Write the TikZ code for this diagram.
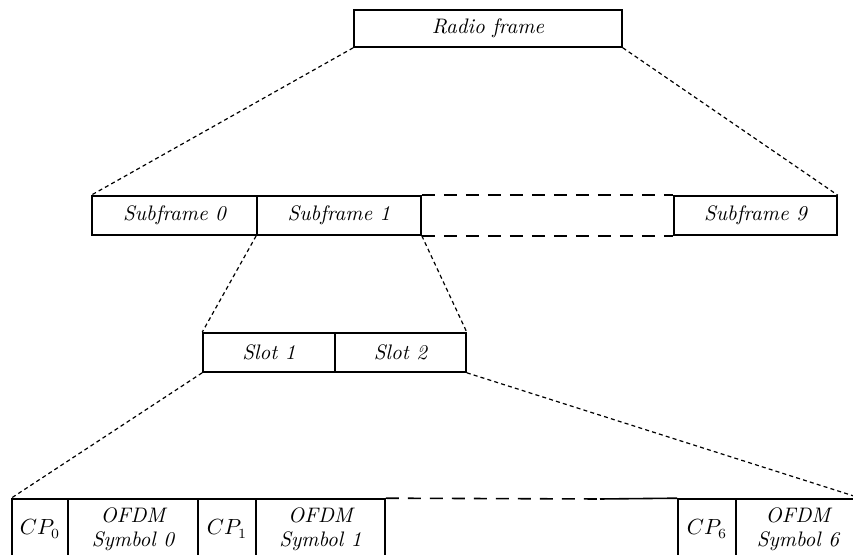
\documentclass[tikz,border=0pt]{standalone}
\begin{document}
\begin{tikzpicture}[x=0.5pt,y=-0.5pt,
  cell/.style={draw,line width=0.8pt,rectangle,inner sep=0pt,minimum height=19.5pt,
    font=\fontsize{10.5}{12}\selectfont\itshape,align=center},
  sym/.style={cell,minimum height=30pt},
  zoomline/.style={line width=0.6pt,dash pattern=on 2pt off 1.6pt},
  gap/.style={line width=0.8pt,dash pattern=on 6.5pt off 4.5pt}]
\useasboundingbox (0,0) rectangle (853,555);
\clip (0,0) rectangle (853,555);

% frame
\node[cell,minimum width=134pt,minimum height=18.5pt] (rf) at (488,28.5) {Radio frame};

% subframes
\node[cell,minimum width=82.5pt] (sf0) at (174.5,215.5) {Subframe 0};
\node[cell,minimum width=82pt]   (sf1) at (339,215.5) {Subframe 1};
\node[cell,minimum width=81.5pt] (sf9) at (755.5,215.5) {Subframe 9};
\draw[gap] (sf1.north east) -- (sf9.north west);
\draw[gap] (sf1.south east) -- (sf9.south west);

% slots
\node[cell,minimum width=66pt]   (sl1) at (269,352.5) {Slot 1};
\node[cell,minimum width=65.5pt] (sl2) at (400.5,352.5) {Slot 2};

% symbols
\node[sym,minimum width=28pt]   (cp0) at (40,529)    {$CP_0$};
\node[sym,minimum width=65pt]   (s0)  at (133,529)   {OFDM\\Symbol 0};
\node[sym,minimum width=29pt]   (cp1) at (227,529)   {$CP_1$};
\node[sym,minimum width=64.5pt] (s1)  at (320.5,529) {OFDM\\Symbol 1};
\node[sym,minimum width=29pt]   (cp6) at (707,529)   {$CP_6$};
\node[sym,minimum width=62pt]   (s6)  at (798,529)   {OFDM\\Symbol 6};
\coordinate (gapend) at (600,499);
\draw[gap] (s1.north east) -- (gapend);
\draw[line width=0.8pt] (gapend) -- (cp6.north west);

% zoom lines
\draw[zoomline] (rf.south west) -- (sf0.north west);
\draw[zoomline] (rf.south east) -- (sf9.north east);
\draw[zoomline] (sf1.south west) -- (sl1.north west);
\draw[zoomline] (sf1.south east) -- (sl2.north east);
\draw[zoomline] (sl1.south west) -- (cp0.north west);
\draw[zoomline] (sl2.south east) -- (s6.north east);
\end{tikzpicture}
\end{document}
